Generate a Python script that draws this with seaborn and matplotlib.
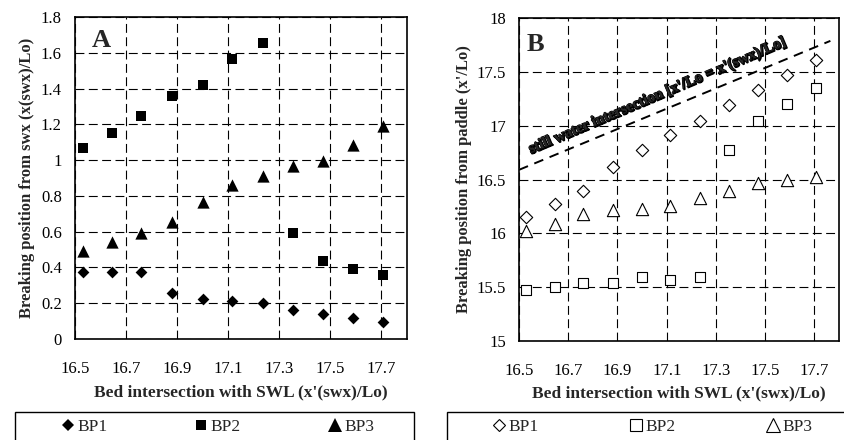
import numpy as np
import pandas as pd
import matplotlib
matplotlib.use("Agg")
import matplotlib.pyplot as plt
import seaborn as sns
from matplotlib.lines import Line2D
from matplotlib.patches import Rectangle
import matplotlib.patheffects as pe

# ---------------- data ----------------
x_swx = [16.53, 16.645, 16.76, 16.88, 17.0, 17.115, 17.235, 17.355, 17.47, 17.59, 17.705]

# Panel A: breaking position from swx
bp1_a = [0.375, 0.375, 0.375, 0.255, 0.225, 0.21, 0.20, 0.16, 0.14, 0.115, 0.095]
bp2_a = [1.07, 1.15, 1.245, 1.36, 1.42, 1.565, 1.655, 0.595, 0.435, 0.39, 0.355]
bp3_a = [0.49, 0.545, 0.59, 0.655, 0.765, 0.86, 0.91, 0.965, 0.995, 1.085, 1.19]

# Panel B: breaking position from paddle
bp1_b = [16.155, 16.27, 16.39, 16.62, 16.775, 16.91, 17.045, 17.195, 17.335, 17.47, 17.61]
bp2_b = [15.475, 15.50, 15.535, 15.535, 15.59, 15.565, 15.59, 16.775, 17.045, 17.205, 17.355]
bp3_b = [16.025, 16.085, 16.175, 16.215, 16.23, 16.255, 16.325, 16.395, 16.47, 16.495, 16.52]

# still water intersection line
swl_x = [16.5, 17.765]
swl_y = [16.59, 17.79]

series_names = ["BP1", "BP2", "BP3"]
x_ticks = [16.5, 16.7, 16.9, 17.1, 17.3, 17.5, 17.7]
x_tick_labels = ["16.5", "16.7", "16.9", "17.1", "17.3", "17.5", "17.7"]
ya_ticks = [0, 0.2, 0.4, 0.6, 0.8, 1.0, 1.2, 1.4, 1.6, 1.8]
ya_tick_labels = ["0", "0.2", "0.4", "0.6", "0.8", "1", "1.2", "1.4", "1.6", "1.8"]
yb_ticks = [15, 15.5, 16, 16.5, 17, 17.5, 18]
yb_tick_labels = ["15", "15.5", "16", "16.5", "17", "17.5", "18"]

xlabel = "Bed intersection with SWL (x'(swx)/Lo)"
ylabel_a = "Breaking position from swx (x(swx)/Lo)"
ylabel_b = "Breaking position from paddle (x'/Lo)"
swl_text = "still water intersection [x'/Lo = x'(swx)/Lo]"

df_a = pd.DataFrame({
    "x": x_swx * 3,
    "y": bp1_a + bp2_a + bp3_a,
    "series": [s for s in series_names for _ in x_swx],
})
df_b = pd.DataFrame({
    "x": x_swx * 3,
    "y": bp1_b + bp2_b + bp3_b,
    "series": [s for s in series_names for _ in x_swx],
})

# ---------------- style ----------------
sns.set_style("white")
plt.rcParams["font.family"] = ["Liberation Serif", "DejaVu Serif"]
plt.rcParams["axes.edgecolor"] = "black"
plt.rcParams["axes.linewidth"] = 1.2

markers = {"BP1": "D", "BP2": "s", "BP3": "^"}
sizes_a = {"BP1": 36, "BP2": 56, "BP3": 78}
sizes_b = {"BP1": 40, "BP2": 60, "BP3": 78}

fig = plt.figure(figsize=(8.44, 4.40), dpi=100)
ax1 = fig.add_axes([75 / 844, 1 - 339 / 440, (407 - 75) / 844, (339 - 17) / 440])
ax2 = fig.add_axes([519 / 844, 1 - 340.7 / 440, (839 - 519) / 844, (340.7 - 18.3) / 440])

for name in series_names:
    sub = df_a[df_a["series"] == name]
    sns.scatterplot(data=sub, x="x", y="y", marker=markers[name], s=sizes_a[name],
                    color="black", edgecolor="black", linewidth=0, ax=ax1, zorder=3,
                    legend=False)
    sub = df_b[df_b["series"] == name]
    sns.scatterplot(data=sub, x="x", y="y", marker=markers[name], s=sizes_b[name],
                    color="white", edgecolor="black", linewidth=0.8, ax=ax2, zorder=3,
                    legend=False)

sns.lineplot(x=swl_x, y=swl_y, ax=ax2, color="black", linewidth=1.4,
             linestyle=(0, (5, 3.5)), zorder=2)

def style_axis(ax, yticks, ylabels, ylim, ylabel, ypad):
    ax.set_xlim(16.5, 17.8)
    ax.set_ylim(*ylim)
    ax.set_xticks(x_ticks)
    ax.set_xticklabels(x_tick_labels, fontsize=12)
    ax.set_yticks(yticks)
    ax.set_yticklabels(ylabels, fontsize=12)
    ax.tick_params(axis="x", direction="inout", length=8, width=1, pad=12, colors="black")
    ax.tick_params(axis="y", direction="inout", length=9, width=1, pad=5, colors="black")
    ax.grid(True, color="black", linestyle=(0, (8, 4)), linewidth=0.8)
    ax.set_axisbelow(True)
    for sp in ax.spines.values():
        sp.set_visible(True)
        sp.set_color("black")
        sp.set_linewidth(1.2)
    ax.set_xlabel(xlabel, fontsize=12.5, fontweight="bold", labelpad=5)
    ax.set_ylabel(ylabel, fontsize=12, fontweight="bold", labelpad=ypad)

style_axis(ax1, ya_ticks, ya_tick_labels, (0, 1.8), ylabel_a, 4)
style_axis(ax2, yb_ticks, yb_tick_labels, (15, 18), ylabel_b, 3)

ax1.text(0.05, 0.907, "A", transform=ax1.transAxes, fontsize=19, fontweight="bold",
         va="baseline", ha="left")
ax2.text(0.025, 0.90, "B", transform=ax2.transAxes, fontsize=19, fontweight="bold",
         va="baseline", ha="left")

ax2.text(17.061, 17.28, swl_text, rotation=23, rotation_mode="anchor", ha="center",
         va="center", fontsize=11, fontweight="bold",
         path_effects=[pe.Stroke(linewidth=1.0, foreground="black", offset=(0.7, -0.7)),
                       pe.Stroke(linewidth=0.7, foreground="black"), pe.Normal()],
         zorder=4)

# ---------------- legend boxes ----------------
top = 1 - 412 / 440
fig.add_artist(Rectangle((15 / 844, -0.05), (414 - 15) / 844, top + 0.05,
                         transform=fig.transFigure, fill=False, edgecolor="black",
                         linewidth=1.0, clip_on=False))
fig.add_artist(Rectangle((447 / 844, -0.05), 0.5, top + 0.05,
                         transform=fig.transFigure, fill=False, edgecolor="black",
                         linewidth=1.0, clip_on=False))

def legend_handles(filled):
    hs = []
    sizes = {"BP1": 6.1, "BP2": 6.8, "BP3": 9.4} if filled else {"BP1": 6.1, "BP2": 8.2, "BP3": 9.8}
    for name in series_names:
        hs.append(Line2D([], [], linestyle="none", marker=markers[name], markersize=sizes[name],
                         markerfacecolor="black" if filled else "white",
                         markeredgecolor="black", markeredgewidth=0 if filled else 0.8))
    return hs

leg_y = 1 - 427 / 440
fig.legend(legend_handles(True), series_names, loc="center left",
           bbox_to_anchor=(61.0 / 844, leg_y), ncol=3, frameon=False, fontsize=12.5,
           handlelength=0.8, handletextpad=0.15, columnspacing=5.0, borderpad=0,
           borderaxespad=0)
fig.legend(legend_handles(False), series_names, loc="center left",
           bbox_to_anchor=(492.0 / 844, leg_y), ncol=3, frameon=False, fontsize=12.5,
           handlelength=0.8, handletextpad=0.15, columnspacing=5.2, borderpad=0,
           borderaxespad=0)

fig.savefig("out.png", dpi=100)
